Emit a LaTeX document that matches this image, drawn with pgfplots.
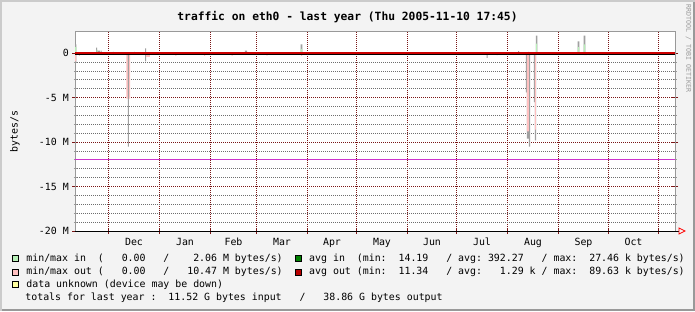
\documentclass[border=0pt]{standalone}
\usepackage{pgfplots}
\pgfplotsset{compat=1.18}
\usepackage{fontspec}
\setmainfont{DejaVu Sans}
\setmonofont{DejaVu Sans Mono}
\definecolor{bg}{HTML}{F3F3F3}
\definecolor{shadea}{HTML}{CBCBCB}
\definecolor{shadeb}{HTML}{999999}
\definecolor{gridc}{HTML}{6E6E6E}
\definecolor{mgrid}{HTML}{7A1616}
\definecolor{fillin}{HTML}{B8F0B8}
\definecolor{fillout}{HTML}{FFC0C0}
\definecolor{mmgray}{HTML}{A0A0A0}
\definecolor{avgin}{HTML}{00A000}
\definecolor{avgout}{HTML}{CC0000}
\definecolor{hrulec}{HTML}{CC33CC}
\definecolor{unk}{HTML}{FFFFA0}
\newcommand\mf{\ttfamily\fontsize{9.9bp}{11bp}\selectfont}
\begin{document}
\begin{tikzpicture}[x=1bp,y=1bp]
\fill[bg] (0,0) rectangle (695,311);
\fill[shadea] (0,0) rectangle (2,311);
\fill[shadea] (0,309) rectangle (695,311);
\fill[shadeb] (693,0) rectangle (695,309);
\fill[shadeb] (2,0) rectangle (695,2);
\begin{axis}[
  at={(75bp,80bp)}, anchor=south west,
  scale only axis, width=600bp, height=199bp,
  xmin=0, xmax=365, ymin=-20, ymax=2.4,
  axis background/.style={fill=white},
  axis line style={draw=shadeb, line width=1bp},
  xtick={20.38,51.40,82.43,110.41,141.44,171.25,202.27,232.08,263.10,294.13,324.54,354.96},
  xticklabels={Dec,Jan,Feb,Mar,Apr,May,Jun,Jul,Aug,Sep,Oct},
  x tick label as interval,
  minor x tick num=0,
  ytick={-20,-15,-10,-5,0},
  yticklabels={-20 M,-15 M,-10 M,-5 M,0},
  minor y tick num=4,
  grid=both,
  major grid style={mgrid, dash pattern=on 1bp off 1bp, line width=1bp},
  minor grid style={gridc, dash pattern=on 1bp off 1bp, line width=1bp},
  tick align=center,
  major tick length=6bp, minor tick length=3bp,
  major tick style={mgrid, line width=1bp, solid},
  minor tick style={shadeb, line width=1bp, solid},
  xtick pos=bottom, ytick pos=both,
  ticklabel style={font=\mf, text=black},
  yticklabel style={anchor=east, inner sep=0pt, xshift=-3bp},
  xticklabel style={anchor=north, inner sep=0pt, yshift=-4bp},
]
% gray max in
\addplot[const plot, fill=mmgray, draw=none] coordinates {
(0,0)(0,1.0)(0.8,0)
(12.8,0.65)(13.5,0.3)(14.6,0.3)(15.2,0)(15.6,0.3)(16.2,0)
(23.1,0.15)(23.6,0)
(35.9,0.15)(36.4,0)
(42.6,0.55)(43.2,0)
(103.4,0.3)(104.6,0.15)(105.2,0)
(107.1,0.12)(107.6,0)
(137.3,1.0)(138.3,0)
(269.5,0.25)(270.1,0)
(275.6,0.15)(276.2,0)
(280.4,2.0)(281.2,0)
(305.8,1.35)(306.8,0)
(309.4,2.0)(310.4,0)
(365,0)};
% green min/max in
\addplot[const plot, fill=fillin, draw=none] coordinates {
(0,0)(0,0.7)(0.8,0)
(13.2,0.4)(13.8,0)
(137.4,0.5)(138.2,0)
(275.6,0.1)(276.2,0)
(280.4,1.1)(281.0,0)
(305.9,0.7)(306.7,0)
(309.5,1.0)(310.3,0)
(365,0)};
% gray max out
\addplot[const plot, fill=mmgray, draw=none] coordinates {
(0,0)(0,-0.95)(0.8,0)
(42.6,-0.9)(43.2,0)
(250.4,-0.5)(251.0,0)
(256.5,-0.2)(257.1,0)
(274.2,-4.4)(274.9,-9.6)(276.1,-10.5)(276.9,0)
(279.1,-5.5)(279.8,-9.8)(280.5,0)
(365,0)};
% pink min/max out
\addplot[const plot, fill=fillout, draw=none] coordinates {
(0,0)(0,-0.9)(0.7,0)
(2.4,-0.3)(3.0,0)
(31.2,-5.1)(33.6,0)
(43.2,-0.4)(45.6,0)
(61.1,-0.3)(61.7,0)
(78.5,-0.3)(79.1,0)
(95.3,-0.3)(95.9,0)
(116.5,-0.3)(117.1,0)
(137.5,-0.3)(138.2,0)
(274.9,-8.8)(276.1,0)
(279.8,-8.6)(280.4,0)
(309.6,-0.2)(311.4,0)
(312.7,-0.2)(313.3,0)
(365,0)};
% thin gray peak in December
\addplot[const plot, fill=mmgray, draw=none] coordinates {
(0,0)(32.2,-10.5)(32.8,0)(365,0)};
% hrule
\addplot[hrulec, line width=1bp] coordinates {(0,-11.93)(365,-11.93)};
% zero / averages
\addplot[black, line width=1bp] coordinates {(0,-0.1)(365,-0.1)};
\addplot[avgout, line width=2bp] coordinates {(0,0.07)(365,0.07)};
\end{axis}
% bottom axis line and arrow
\draw[black, line width=1bp] (75,80) -- (679,80);
\draw[red, line width=0.8bp] (679,77) -- (685,80) -- (679,83) -- cycle;
% title
\node[font=\ttfamily\bfseries\fontsize{11.3bp}{13bp}\selectfont, anchor=mid] at (347.5,293) {traffic on eth0 - last year (Thu 2005-11-10 17:45)};
% y label
\node[font=\mf, rotate=90, anchor=mid] at (15,179.3) {bytes/s};
% watermark
\node[font=\ttfamily\fontsize{6.6bp}{7bp}\selectfont, text=shadeb, rotate=-90, anchor=mid] at (689,262.5) {RRDTOOL / TOBI OETIKER};
% legend
\filldraw[fill=fillin, draw=black, line width=0.6bp] (12.5,49.5) rectangle (18.5,55.5);
\filldraw[fill=fillout, draw=black, line width=0.6bp] (12.5,36.2) rectangle (18.5,42.2);
\filldraw[fill=unk, draw=black, line width=0.6bp] (12.5,23.6) rectangle (18.5,29.6);
\filldraw[fill=avgin!80!black, draw=black, line width=0.6bp] (295.5,49.5) rectangle (301.5,55.5);
\filldraw[fill=avgout!90!black, draw=black, line width=0.6bp] (295.5,36.2) rectangle (301.5,42.2);
\node[font=\mf, anchor=mid west, inner sep=0pt] at (26.2,52.7) {min/max~in~~(~~~0.00~~~/~~~~2.06~M~bytes/s)};
\node[font=\mf, anchor=mid west, inner sep=0pt] at (26.2,39.3) {min/max~out~(~~~0.00~~~/~~~10.47~M~bytes/s)};
\node[font=\mf, anchor=mid west, inner sep=0pt] at (26.2,26.7) {data~unknown~(device~may~be~down)};
\node[font=\mf, anchor=mid west, inner sep=0pt] at (25.2,13.7) {totals~for~last~year~:~~11.52~G~bytes~input~~~/~~~38.86~G~bytes~output};
\node[font=\mf, anchor=mid west, inner sep=0pt] at (309,52.7) {avg~in~~(min:~~14.19~~~/~avg:~392.27~~~/~max:~~27.46~k~bytes/s)};
\node[font=\mf, anchor=mid west, inner sep=0pt] at (309,39.3) {avg~out~(min:~~11.34~~~/~avg:~~~1.29~k~/~max:~~89.63~k~bytes/s)};
\end{tikzpicture}
\end{document}
